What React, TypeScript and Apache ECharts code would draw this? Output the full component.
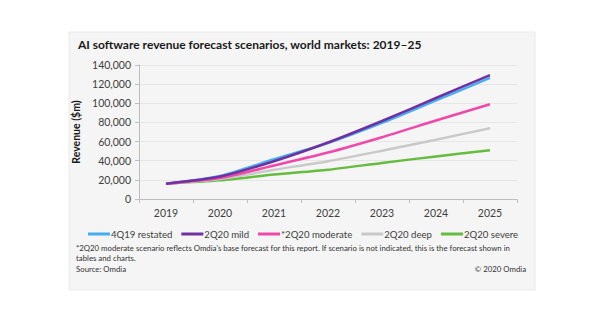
import React, { useEffect, useRef } from "react";
import * as echarts from "echarts";

const years = ["2019", "2020", "2021", "2022", "2023", "2024", "2025"];
const restated4Q19 = [16000, 24000, 41500, 58500, 79500, 103000, 126500];
const mild2Q20 = [16000, 23500, 39500, 59000, 81500, 105500, 129500];
const moderate2Q20 = [16000, 22000, 35000, 48500, 64500, 82000, 99000];
const deep2Q20 = [16000, 21000, 30500, 39500, 50500, 62000, 74000];
const severe2Q20 = [16000, 19500, 25500, 30500, 37700, 44500, 51000];
const seriesNames = ["4Q19 restated", "2Q20 mild", "*2Q20 moderate", "2Q20 deep", "2Q20 severe"];
const seriesColors = ["#45adf2", "#7030a0", "#f048aa", "#c9c9c9", "#64bd3e"];

const FONT = "Lato, 'Open Sans', sans-serif";

export default function App() {
  const ref = useRef<HTMLDivElement>(null);
  useEffect(() => {
    if (!ref.current) return;
    const chart = echarts.init(ref.current, null, { renderer: "svg" });
    const values = [restated4Q19, mild2Q20, moderate2Q20, deep2Q20, severe2Q20];
    chart.setOption({
      animation: false,
      backgroundColor: "#ffffff",
      textStyle: { fontFamily: FONT },
      graphic: [
        {
          type: "rect",
          z: -10,
          silent: true,
          shape: { x: 69, y: 32, width: 466, height: 258 },
          style: { fill: "#f5f5f5", stroke: "#ebebeb", lineWidth: 1 },
        },
        {
          type: "text",
          left: 78,
          top: 38,
          style: {
            text: "AI software revenue forecast scenarios, world markets: 2019–25",
            fontSize: 12,
            fontWeight: "bold",
            fill: "#1a1a1a",
            fontFamily: FONT,
          },
        },
        {
          type: "text",
          left: 76,
          top: 244,
          style: {
            text:
              "*2Q20 moderate scenario reflects Omdia's base forecast for this report. If scenario is not indicated, this is the forecast shown in",
            fontSize: 7.8,
            fill: "#333333",
            fontFamily: FONT,
          },
        },
        {
          type: "text",
          left: 76,
          top: 254,
          style: { text: "tables and charts.", fontSize: 7.8, fill: "#333333", fontFamily: FONT },
        },
        {
          type: "text",
          left: 76,
          top: 265,
          style: { text: "Source: Omdia", fontSize: 7.8, fill: "#333333", fontFamily: FONT },
        },
        {
          type: "text",
          right: 74,
          top: 265,
          style: { text: "© 2020 Omdia", fontSize: 7.8, fill: "#333333", fontFamily: FONT },
        },
      ],
      legend: {
        top: 229,
        left: 88,
        padding: 0,
        itemWidth: 22,
        itemHeight: 3,
        itemGap: 9,
        icon: "rect",
        textStyle: { fontSize: 9.6, color: "#404040", fontFamily: FONT, padding: [0, 0, 0, -4] },
        data: seriesNames,
      },
      grid: { left: 139, right: 83, top: 65, bottom: 126, containLabel: false },
      xAxis: {
        type: "category",
        data: years,
        boundaryGap: true,
        axisLine: { lineStyle: { color: "#bfbfbf" } },
        axisTick: { show: true, length: 4, lineStyle: { color: "#bfbfbf" } },
        axisLabel: { fontSize: 10.5, color: "#404040", margin: 8, fontFamily: FONT },
      },
      yAxis: {
        type: "value",
        min: 0,
        max: 140000,
        interval: 20000,
        name: "Revenue ($m)",
        nameLocation: "middle",
        nameRotate: 90,
        nameGap: 45,
        nameTextStyle: { fontSize: 10.5, fontWeight: "bold", color: "#1a1a1a", fontFamily: FONT },
        axisLine: { show: true, lineStyle: { color: "#bfbfbf" } },
        axisTick: { show: true, length: 4, inside: false, lineStyle: { color: "#bfbfbf" } },
        splitLine: { lineStyle: { color: "#e6e6e6" } },
        axisLabel: {
          fontSize: 10.5,
          color: "#404040",
          margin: 8,
          fontFamily: FONT,
          formatter: (v: number) => v.toLocaleString("en-US"),
        },
      },
      series: seriesNames.map((name, i) => ({
        name,
        type: "line",
        data: values[i],
        smooth: 0.25,
        symbol: "none",
        color: seriesColors[i],
        lineStyle: { width: 2.5, color: seriesColors[i] },
        z: i === 0 ? 1 : 5 - i,
      })),
    });
    return () => chart.dispose();
  }, []);
  return (
    <div
      ref={ref}
      style={{ position: "absolute", left: 0, top: 0, width: 600, height: 325 }}
    />
  );
}
